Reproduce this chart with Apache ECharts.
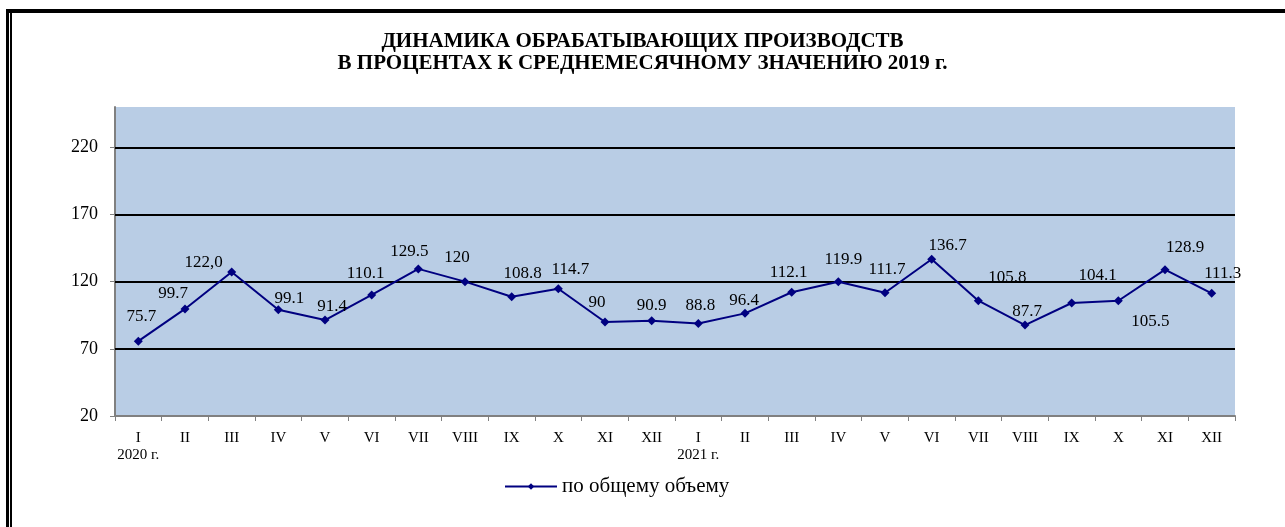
<!DOCTYPE html>
<html>
<head>
<meta charset="utf-8">
<script src="https://cdn.jsdelivr.net/npm/echarts@6/dist/echarts.min.js"></script>
<style>
  html, body { margin: 0; padding: 0; background: #fff; }
  #chart { width: 1285px; height: 527px; }
</style>
</head>
<body>
<div id="chart"></div>
<script>
// месяцы 2020-2021
const months = ['I', 'II', 'III', 'IV', 'V', 'VI', 'VII', 'VIII', 'IX', 'X', 'XI', 'XII',
  'I', 'II', 'III', 'IV', 'V', 'VI', 'VII', 'VIII', 'IX', 'X', 'XI', 'XII'];
const yearMarks = { 0: '2020 г.', 12: '2021 г.' };
const values = [75.7, 99.7, 127.2, 99.1, 91.4, 110.1, 129.5, 120, 108.8, 114.7, 90, 90.9,
  88.8, 96.4, 112.1, 119.9, 111.7, 136.7, 105.8, 87.7, 104.1, 105.8, 128.9, 111.3];
const valueLabels = ['75.7', '99.7', '122,0', '99.1', '91.4', '110.1', '129.5', '120', '108.8', '114.7', '90', '90.9',
  '88.8', '96.4', '112.1', '119.9', '111.7', '136.7', '105.8', '87.7', '104.1', '105.5', '128.9', '111.3'];
const yTicks = [20, 70, 120, 170, 220];
const gridValues = [70, 120, 170, 220];

// сдвиги подписей [dx, dy] относительно позиции "top"
const labelShift = [[3, -7], [-12, 3], [-28, 9], [11, 7], [7, 4], [-6, -3], [-9, 1], [-8, -6], [11, -5], [12, -1], [-8, -1], [0, 3],
  [2, 0], [-1, 5], [-3, -2], [5, -4], [2, -5], [16, 4], [29, -5], [2, 4], [26, -9], [32, 39], [20, -4], [11, -2]];

const serif = '"Liberation Serif", "Times New Roman", serif';
const chart = echarts.init(document.getElementById('chart'), null, { renderer: 'canvas' });

const seriesData = values.map((v, i) => ({
  value: v,
  label: { formatter: valueLabels[i], offset: labelShift[i] }
}));

chart.setOption({
  animation: false,
  backgroundColor: '#fff',
  title: {
    text: 'ДИНАМИКА ОБРАБАТЫВАЮЩИХ ПРОИЗВОДСТВ\nВ ПРОЦЕНТАХ К СРЕДНЕМЕСЯЧНОМУ ЗНАЧЕНИЮ 2019 г.',
    left: 'center',
    top: 26,
    textStyle: { fontFamily: serif, fontWeight: 'bold', fontSize: 21, lineHeight: 22, color: '#000' }
  },
  legend: {
    top: 471,
    left: 499,
    itemWidth: 52,
    itemHeight: 8,
    itemGap: 6,
    textStyle: { fontFamily: serif, fontSize: 21, color: '#000' },
    data: ['по общему объему']
  },
  graphic: [
    { type: 'rect', shape: { x: 6, y: 9, width: 3, height: 520 }, style: { fill: '#000' } },
    { type: 'rect', shape: { x: 10, y: 12, width: 2, height: 520 }, style: { fill: '#000' } },
    { type: 'rect', shape: { x: 6, y: 9, width: 1285, height: 4 }, style: { fill: '#000' } }
  ],
  grid: {
    left: 115, right: 50, top: 107, bottom: 111,
    show: true, backgroundColor: '#B9CDE5', borderWidth: 0
  },
  xAxis: {
    type: 'category',
    data: months,
    boundaryGap: true,
    axisLine: { lineStyle: { color: '#808080', width: 2 } },
    axisTick: { show: true, length: 5, lineStyle: { color: '#808080' } },
    axisLabel: {
      fontFamily: serif, fontSize: 15, color: '#000', margin: 14, interval: 0, lineHeight: 17,
      formatter: (v, i) => yearMarks[i] ? v + '\n' + yearMarks[i] : v
    }
  },
  yAxis: {
    type: 'value',
    min: 20, max: 250, interval: 50,
    axisLine: { show: true, lineStyle: { color: '#808080', width: 2 } },
    axisTick: { show: true, length: 5, lineStyle: { color: '#808080' } },
    axisLabel: {
      fontFamily: serif, fontSize: 18, color: '#000', margin: 17, showMaxLabel: false,
      formatter: v => yTicks.includes(v) ? String(v) : ''
    },
    splitLine: { show: false }
  },
  series: [{
    name: 'по общему объему',
    type: 'line',
    data: seriesData,
    symbol: 'diamond',
    symbolSize: 9,
    z: 3,
    lineStyle: { color: '#000080', width: 2 },
    itemStyle: { color: '#000080' },
    label: {
      show: true, position: 'top', distance: 5,
      fontFamily: serif, fontSize: 17, color: '#000'
    },
    markLine: {
      silent: true,
      z: 1,
      symbol: 'none',
      label: { show: false },
      lineStyle: { color: '#000', width: 2, type: 'solid' },
      emphasis: { disabled: true },
      data: gridValues.map(v => ({ yAxis: v }))
    }
  }]
});
</script>
</body>
</html>
